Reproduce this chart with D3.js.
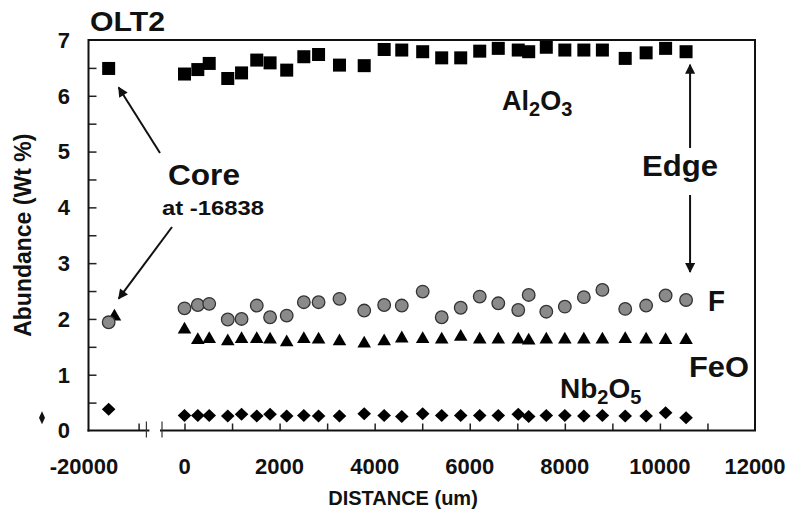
<!DOCTYPE html>
<html>
<head>
<meta charset="utf-8">
<script src="https://cdn.jsdelivr.net/npm/d3@7"></script>
<style>
  body { margin: 0; padding: 0; background: #fff; }
  text { font-family: "Liberation Sans", Arial, Helvetica, sans-serif; font-weight: bold; fill: #111; }
</style>
</head>
<body>
<script>
// distances (um) along the profile, shared by the rim-side analyses
const distance = [0, 280, 520, 910, 1200, 1520, 1800, 2150, 2510, 2820, 3260, 3780, 4200, 4570, 5010,
  5410, 5810, 6210, 6600, 7020, 7240, 7610, 8000, 8400, 8790, 9270, 9710, 10120, 10550];

const al2o3 = [6.39, 6.47, 6.58, 6.31, 6.41, 6.64, 6.59, 6.46, 6.70, 6.74, 6.55, 6.54, 6.83, 6.82, 6.79,
  6.68, 6.68, 6.80, 6.85, 6.82, 6.79, 6.87, 6.82, 6.82, 6.82, 6.67, 6.77, 6.85, 6.79];
const fluorine = [2.19, 2.25, 2.27, 1.99, 2.00, 2.24, 2.03, 2.06, 2.30, 2.30, 2.36, 2.15, 2.25, 2.24, 2.49,
  2.03, 2.20, 2.40, 2.28, 2.16, 2.43, 2.13, 2.22, 2.39, 2.52, 2.18, 2.24, 2.42, 2.34];
const feo = [1.81, 1.62, 1.64, 1.60, 1.64, 1.64, 1.63, 1.58, 1.64, 1.63, 1.60, 1.56, 1.60, 1.65, 1.64,
  1.63, 1.68, 1.63, 1.63, 1.63, 1.61, 1.63, 1.63, 1.63, 1.63, 1.64, 1.63, 1.62, 1.62];
const nb2o5 = [0.27, 0.27, 0.27, 0.26, 0.29, 0.26, 0.29, 0.26, 0.27, 0.26, 0.26, 0.30, 0.27, 0.25, 0.30,
  0.27, 0.27, 0.27, 0.27, 0.29, 0.25, 0.27, 0.27, 0.26, 0.27, 0.26, 0.26, 0.32, 0.23];

// core analyses (plotted on the compressed left part of the axis)
const coreX = -16838;
const coreFeoX = -16100;
const coreValues = { al2o3: 6.49, fluorine: 1.94, feo: 2.04, nb2o5: 0.38 };

const xTickLabels = [-20000, 0, 2000, 4000, 6000, 8000, 10000, 12000];
const yTickLabels = [0, 1, 2, 3, 4, 5, 6, 7];

const W = 792, H = 509;

// broken axis: left part compressed, right part linear
const xScale = d3.scaleLinear()
  .domain([-20000, -10000, 0, 12000])
  .range([84, 162, 184.5, 755]);
const yScale = d3.scaleLinear().domain([0, 7]).range([430.5, 40]);

const plotLeft = 88.5, plotRight = xScale(12000), plotTop = yScale(7), plotBottom = yScale(0);
const breakA = xScale(-12000), breakB = xScale(-10000);

const svg = d3.select("body").append("svg")
  .attr("width", W)
  .attr("height", H);

svg.append("defs").append("marker")
    .attr("id", "head")
    .attr("viewBox", "0 0 10 10")
    .attr("refX", 9).attr("refY", 5)
    .attr("markerWidth", 6).attr("markerHeight", 5)
    .attr("orient", "auto")
  .append("path")
    .attr("d", "M0,0 L10,5 L0,10 z")
    .attr("fill", "#111");

// frame: top and right
svg.append("path")
  .attr("d", `M${plotLeft},${plotTop} H${plotRight} V${plotBottom}`)
  .attr("fill", "none").attr("stroke", "#111").attr("stroke-width", 2);

// y axis, ticks pointing inward
const yAxis = d3.axisRight(yScale)
  .tickValues(d3.range(0.5, 7, 0.5))
  .tickSize(8)
  .tickFormat("");
const gy = svg.append("g").attr("transform", `translate(${plotLeft},0)`).call(yAxis);
gy.select(".domain").remove();
gy.selectAll("line").attr("stroke", "#222").attr("stroke-width", 1.5);
svg.append("line")
  .attr("x1", plotLeft).attr("x2", plotLeft).attr("y1", plotTop - 1).attr("y2", plotBottom + 1)
  .attr("stroke", "#111").attr("stroke-width", 2);

svg.append("g").selectAll("text")
  .data(yTickLabels)
  .join("text")
    .attr("x", 70)
    .attr("y", d => yScale(d))
    .attr("dy", "0.36em")
    .attr("text-anchor", "end")
    .attr("font-size", 22)
    .text(d => d);

// x axis with break
const xAxis = d3.axisTop(xScale)
  .tickValues(d3.range(0, 12000, 1000).concat([-13000]))
  .tickSize(7)
  .tickFormat("");
const gx = svg.append("g").attr("transform", `translate(0,${plotBottom})`).call(xAxis);
gx.select(".domain").remove();
gx.selectAll("line").attr("stroke", "#222").attr("stroke-width", 1.5);

svg.append("line")
  .attr("x1", plotLeft - 1).attr("x2", breakA + 3).attr("y1", plotBottom).attr("y2", plotBottom)
  .attr("stroke", "#111").attr("stroke-width", 2);
svg.append("line")
  .attr("x1", breakB - 2).attr("x2", plotRight + 1).attr("y1", plotBottom).attr("y2", plotBottom)
  .attr("stroke", "#111").attr("stroke-width", 2);
svg.append("g").selectAll("line")
  .data([-12000, -10000])
  .join("line")
    .attr("x1", d => xScale(d)).attr("x2", d => xScale(d))
    .attr("y1", plotBottom - 9).attr("y2", plotBottom + 7)
    .attr("stroke", "#333").attr("stroke-width", 1.2);

svg.append("g").selectAll("text")
  .data(xTickLabels)
  .join("text")
    .attr("x", d => xScale(d))
    .attr("y", 466)
    .attr("dy", "0.36em")
    .attr("text-anchor", "middle")
    .attr("font-size", 22)
    .text(d => d);

// axis titles
svg.append("text")
  .attr("transform", `translate(23,${(plotTop + plotBottom) / 2}) rotate(-90)`)
  .attr("text-anchor", "middle")
  .attr("dy", "0.36em")
  .attr("font-size", 23)
  .text("Abundance (Wt %)");
svg.append("text")
  .attr("x", 403).attr("y", 498)
  .attr("text-anchor", "middle")
  .attr("dy", "0.36em")
  .attr("font-size", 20)
  .text("DISTANCE (um)");

svg.append("text")
  .attr("x", 90).attr("y", 31)
  .attr("font-size", 27)
  .attr("textLength", 75).attr("lengthAdjust", "spacingAndGlyphs")
  .text("OLT2");

// series
const rows = distance.map((x, i) => ({ x, al2o3: al2o3[i], fluorine: fluorine[i], feo: feo[i], nb2o5: nb2o5[i] }));
const coreRows = [{ x: coreX, ...coreValues }];

const marks = svg.append("g");

// FeO triangles
marks.append("g").selectAll("path")
  .data(rows.concat([{ x: coreFeoX, feo: coreValues.feo }]))
  .join("path")
    .attr("transform", d => `translate(${xScale(d.x)},${yScale(d.feo)})`)
    .attr("d", d3.symbol(d3.symbolTriangle, 80))
    .attr("fill", "#000");

// F circles
marks.append("g").selectAll("circle")
  .data(rows.concat(coreRows))
  .join("circle")
    .attr("cx", d => xScale(d.x))
    .attr("cy", d => yScale(d.fluorine))
    .attr("r", 6.3)
    .attr("fill", "#8a8a8a")
    .attr("stroke", "#333")
    .attr("stroke-width", 1.3);

// Al2O3 squares
marks.append("g").selectAll("rect")
  .data(rows.concat(coreRows))
  .join("rect")
    .attr("x", d => xScale(d.x) - 6.5)
    .attr("y", d => yScale(d.al2o3) - 6.5)
    .attr("width", 13)
    .attr("height", 13)
    .attr("fill", "#000");

// Nb2O5 diamonds
marks.append("g").selectAll("path")
  .data(rows.concat(coreRows))
  .join("path")
    .attr("transform", d => `translate(${xScale(d.x)},${yScale(d.nb2o5)})`)
    .attr("d", "M0,-6.5 L6.8,0 L0,6.5 L-6.8,0 Z")
    .attr("fill", "#000");

// stray marker beside the y labels
svg.append("path")
  .attr("transform", `translate(42,${yScale(0.23)})`)
  .attr("d", "M0,-6.5 L3,0 L0,6.5 L-3,0 Z")
  .attr("fill", "#111");

// annotations
const cx0 = xScale(coreX);
svg.append("line")
  .attr("x1", 160).attr("y1", 153)
  .attr("x2", cx0 + 10).attr("y2", yScale(coreValues.al2o3) + 19)
  .attr("stroke", "#111").attr("stroke-width", 2)
  .attr("marker-end", "url(#head)");
svg.append("line")
  .attr("x1", 172).attr("y1", 227)
  .attr("x2", cx0 + 10).attr("y2", yScale(coreValues.feo) - 18)
  .attr("stroke", "#111").attr("stroke-width", 2)
  .attr("marker-end", "url(#head)");

const edgeX = xScale(distance[distance.length - 1]) + 4;
svg.append("line")
  .attr("x1", edgeX).attr("y1", 148)
  .attr("x2", edgeX).attr("y2", yScale(al2o3[al2o3.length - 1]) + 13)
  .attr("stroke", "#111").attr("stroke-width", 2)
  .attr("marker-end", "url(#head)");
svg.append("line")
  .attr("x1", edgeX).attr("y1", 195)
  .attr("x2", edgeX).attr("y2", 272)
  .attr("stroke", "#111").attr("stroke-width", 2)
  .attr("marker-end", "url(#head)");

const label = (x, y, size, len, txt) => svg.append("text")
  .attr("x", x).attr("y", y).attr("font-size", size)
  .attr("textLength", len).attr("lengthAdjust", "spacingAndGlyphs")
  .text(txt);
label(168, 185, 29, 72, "Core");
label(162, 215, 20, 102, "at -16838");
label(642, 176, 29, 76, "Edge");
label(708, 311, 29, 17, "F");
label(689, 377, 29, 60, "FeO");

const al = svg.append("text").attr("x", 502).attr("y", 110).attr("font-size", 27);
al.append("tspan").text("Al");
al.append("tspan").attr("font-size", 20).attr("dy", 6).text("2");
al.append("tspan").attr("dy", -6).text("O");
al.append("tspan").attr("font-size", 20).attr("dy", 6).text("3");

const nb = svg.append("text").attr("x", 560).attr("y", 398).attr("font-size", 28);
nb.append("tspan").text("Nb");
nb.append("tspan").attr("font-size", 20).attr("dy", 6).text("2");
nb.append("tspan").attr("dy", -6).text("O");
nb.append("tspan").attr("font-size", 20).attr("dy", 6).text("5");
</script>
</body>
</html>
